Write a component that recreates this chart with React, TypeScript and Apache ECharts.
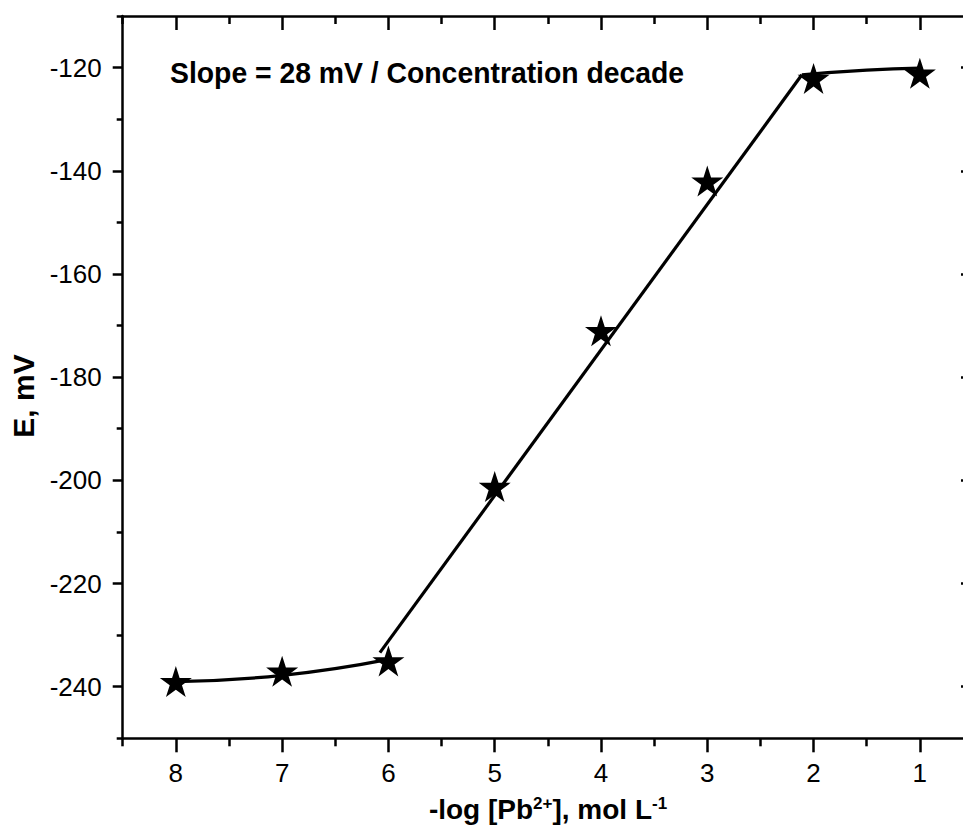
import React, { useEffect, useRef } from "react";
import * as echarts from "echarts";

// Measured data (x = -log[Pb2+], y = E / mV)
const pointX = [8, 7, 6, 5, 4, 3, 2, 1];
const pointY = [-239, -237, -235, -201.2, -171, -142, -122.1, -121.1];

// Fitted curves
const lowCurveX = [8, 7, 6];
const lowCurveY = [-239, -237.8, -234.7];
const linearX = [6.08, 2.11];
const linearY = [-233.4, -121.4];
const highCurveX = [2.11, 1.5, 1];
const highCurveY = [-121.4, -120.5, -120.1];

// Axis ticks
const xMajorTicks = [1, 2, 3, 4, 5, 6, 7, 8];
const xMinorTicks = [0.5, 1.5, 2.5, 3.5, 4.5, 5.5, 6.5, 7.5, 8.5];
const yMajorTicks = [-240, -220, -200, -180, -160, -140, -120];
const yMinorTicks = [-250, -230, -210, -190, -170, -150, -130, -110];

const FONT = "'Liberation Sans', Arial, sans-serif";
const STAR =
  "path://M50 0 L61.23 34.55 L97.55 34.55 L68.17 55.9 L79.39 90.45 L50 69.1 L20.61 90.45 L31.83 55.9 L2.45 34.55 L38.77 34.55 Z";

const zip = (xs: number[], ys: number[]) => xs.map((x, i) => [x, ys[i]]);

export default function App() {
  const ref = useRef<HTMLDivElement>(null);
  useEffect(() => {
    if (!ref.current) return;
    const chart = echarts.init(ref.current, null, { renderer: "svg" });
    const lineStyle = { color: "#000", width: 2.5 };
    const baseX = { type: "value", min: 0.5, max: 8.5, inverse: true, gridIndex: 0, splitLine: { show: false } };
    const baseY = { type: "value", min: -250, max: -110, gridIndex: 0, splitLine: { show: false } };
    const noLabel = { show: false };
    const curveStyle = { color: "#000", width: 3.2 };
    chart.setOption({
      animation: false,
      backgroundColor: "#fff",
      grid: { left: 122.7, right: 27, top: 16, bottom: 86.7, containLabel: false },
      xAxis: [
        {
          ...baseX,
          position: "bottom",
          axisLine: { show: true, lineStyle },
          axisTick: { show: true, inside: false, length: 14, customValues: xMajorTicks, lineStyle },
          axisLabel: {
            show: true,
            customValues: xMajorTicks,
            margin: 22,
            color: "#000",
            fontFamily: FONT,
            fontSize: 26,
          },
        },
        {
          ...baseX,
          position: "bottom",
          axisLine: { show: false },
          axisTick: { show: true, inside: false, length: 8, customValues: xMinorTicks, lineStyle },
          axisLabel: noLabel,
        },
        {
          ...baseX,
          position: "top",
          axisLine: { show: true, lineStyle },
          axisTick: { show: true, inside: true, length: 14, customValues: xMajorTicks, lineStyle },
          axisLabel: noLabel,
        },
        {
          ...baseX,
          position: "top",
          axisLine: { show: false },
          axisTick: { show: true, inside: true, length: 8, customValues: xMinorTicks, lineStyle },
          axisLabel: noLabel,
        },
      ],
      yAxis: [
        {
          ...baseY,
          position: "left",
          axisLine: { show: true, lineStyle },
          axisTick: { show: true, inside: false, length: 10, customValues: yMajorTicks, lineStyle },
          axisLabel: {
            show: true,
            customValues: yMajorTicks,
            margin: 21,
            color: "#000",
            fontFamily: FONT,
            fontSize: 26,
          },
        },
        {
          ...baseY,
          position: "left",
          axisLine: { show: false },
          axisTick: { show: true, inside: false, length: 6, customValues: yMinorTicks, lineStyle },
          axisLabel: noLabel,
        },
        {
          ...baseY,
          position: "right",
          axisLine: { show: true, lineStyle },
          axisTick: { show: true, inside: true, length: 12, customValues: yMajorTicks, lineStyle },
          axisLabel: noLabel,
        },
        {
          ...baseY,
          position: "right",
          axisLine: { show: false },
          axisTick: { show: true, inside: true, length: 7, customValues: yMinorTicks, lineStyle },
          axisLabel: noLabel,
        },
      ],
      graphic: [
        {
          type: "text",
          x: 170,
          y: 58,
          scaleX: 0.945,
          style: {
            text: "Slope = 28 mV / Concentration decade",
            fontFamily: FONT,
            fontWeight: "bold",
            fontSize: 30,
            fill: "#000",
            align: "left",
            verticalAlign: "top",
          },
        },
        {
          type: "text",
          x: 23,
          y: 396,
          rotation: Math.PI / 2,
          style: {
            text: "E, mV",
            fontFamily: FONT,
            fontWeight: "bold",
            fontSize: 30,
            fill: "#000",
            align: "center",
            verticalAlign: "middle",
          },
        },
        {
          type: "text",
          x: 548,
          y: 809,
          style: {
            text: "{b|-log [Pb}{s|2+}{b|], mol L}{s|-1}",
            align: "center",
            verticalAlign: "middle",
            rich: {
              b: { fontFamily: FONT, fontWeight: "bold", fontSize: 28, fill: "#000", verticalAlign: "bottom" },
              s: { fontFamily: FONT, fontWeight: "bold", fontSize: 17, fill: "#000", verticalAlign: "top" },
            },
          },
        },
      ],
      series: [
        {
          type: "line",
          data: zip(lowCurveX, lowCurveY),
          smooth: true,
          showSymbol: false,
          lineStyle: curveStyle,
          z: 2,
        },
        {
          type: "line",
          data: zip(linearX, linearY),
          showSymbol: false,
          lineStyle: curveStyle,
          z: 2,
        },
        {
          type: "line",
          data: zip(highCurveX, highCurveY),
          smooth: true,
          showSymbol: false,
          lineStyle: curveStyle,
          z: 2,
        },
        {
          type: "scatter",
          data: zip(pointX, pointY),
          symbol: STAR,
          symbolSize: [32, 31],
          itemStyle: { color: "#000", opacity: 1 },
          z: 3,
        },
      ],
    });
    return () => chart.dispose();
  }, []);
  return (
    <div style={{ position: "fixed", left: 0, top: 0, width: 963, height: 825, overflow: "hidden", background: "#fff" }}>
      <div ref={ref} style={{ width: 1000, height: 825 }} />
    </div>
  );
}
